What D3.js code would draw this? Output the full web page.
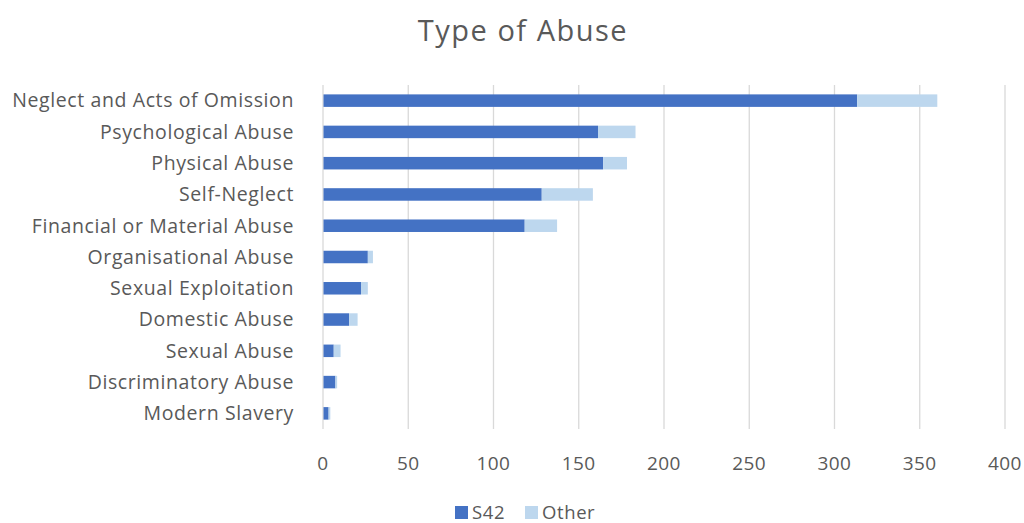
<!DOCTYPE html>
<html>
<head>
<meta charset="utf-8">
<script src="https://cdn.jsdelivr.net/npm/d3@7"></script>
<style>
  body { margin: 0; background: #fff; }
  text { font-family: "Open Sans", Lato, sans-serif; fill: #595959; }
</style>
</head>
<body>
<div id="plot"></div>
<script>
// categories, top to bottom
var categories = ["Neglect and Acts of Omission", "Psychological Abuse", "Physical Abuse",
  "Self-Neglect", "Financial or Material Abuse", "Organisational Abuse", "Sexual Exploitation",
  "Domestic Abuse", "Sexual Abuse", "Discriminatory Abuse", "Modern Slavery"];

var s42 =   [313, 161, 164, 128, 118, 26, 22, 15, 6, 7, 3];
var other = [47, 22, 14, 30, 19, 3, 4, 5, 4, 1, 1];

var seriesNames = ["S42", "Other"];
var xTicks = [0, 50, 100, 150, 200, 250, 300, 350, 400];

var colors = {"S42": "#4472C4", "Other": "#BDD7EE"};

var width = 1024, height = 523;
var margin = {top: 85, right: 19, bottom: 94, left: 323};

var svg = d3.select("#plot").append("svg")
  .attr("width", width)
  .attr("height", height);

var x = d3.scaleLinear().domain([0, 400]).range([margin.left, width - margin.right]);
var y = d3.scaleBand().domain(categories)
  .range([margin.top, height - margin.bottom])
  .paddingInner(0.6).paddingOuter(0.3);

// gridlines
svg.append("g")
  .selectAll("line")
  .data(xTicks)
  .enter().append("line")
  .attr("x1", function(d) { return x(d); })
  .attr("x2", function(d) { return x(d); })
  .attr("y1", margin.top)
  .attr("y2", height - margin.bottom)
  .attr("stroke", "#D9D9D9")
  .attr("stroke-width", 1.3);

// stacked data
var rows = categories.map(function(c, i) { return {cat: c, S42: s42[i], Other: other[i]}; });
var stack = d3.stack().keys(seriesNames)(rows);

svg.append("g")
  .selectAll("g")
  .data(stack)
  .enter().append("g")
  .attr("fill", function(d) { return colors[d.key]; })
  .selectAll("rect")
  .data(function(d) { return d; })
  .enter().append("rect")
  .attr("x", function(d) { return x(d[0]) + 0.5; })
  .attr("width", function(d) { return x(d[1]) - x(d[0]); })
  .attr("y", function(d) { return y(d.data.cat); })
  .attr("height", y.bandwidth());

// category labels
svg.append("g")
  .selectAll("text")
  .data(categories)
  .enter().append("text")
  .attr("x", margin.left - 29)
  .attr("y", function(d) { return y(d) + y.bandwidth() / 2; })
  .attr("dy", "0.35em")
  .attr("text-anchor", "end")
  .style("font-size", "19.5px")
  .style("letter-spacing", "0.6px")
  .text(function(d) { return d; });

// x tick labels
svg.append("g")
  .selectAll("text")
  .data(xTicks)
  .enter().append("text")
  .attr("x", function(d) { return x(d); })
  .attr("y", 470)
  .attr("text-anchor", "middle")
  .style("font-size", "19px")
  .style("letter-spacing", "0.4px")
  .text(function(d) { return d; });

// title
svg.append("text")
  .attr("x", 523)
  .attr("y", 41)
  .attr("text-anchor", "middle")
  .style("font-size", "29px")
  .style("letter-spacing", "1.5px")
  .text("Type of Abuse");

// legend
var legendX = [455, 525];
var legend = svg.append("g")
  .selectAll("g")
  .data(seriesNames)
  .enter().append("g")
  .attr("transform", function(d, i) { return "translate(" + legendX[i] + ",506)"; });

legend.append("rect")
  .attr("width", 13)
  .attr("height", 13)
  .attr("fill", function(d) { return colors[d]; });

legend.append("text")
  .attr("x", 17)
  .attr("y", 6.5)
  .attr("dy", "0.35em")
  .style("font-size", "18.5px")
  .style("letter-spacing", "0.6px")
  .text(function(d) { return d; });
</script>
</body>
</html>
